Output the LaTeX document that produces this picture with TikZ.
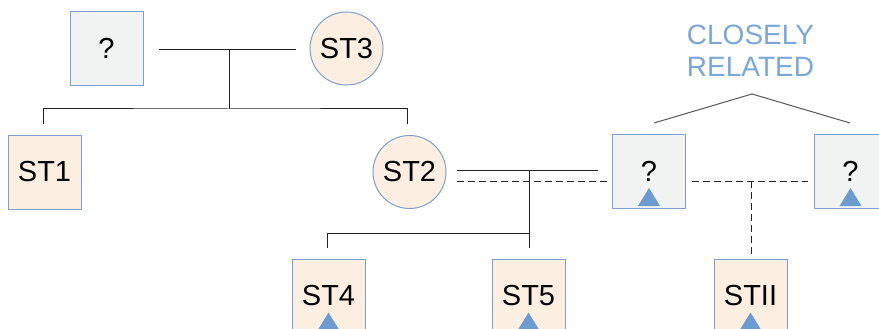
\documentclass[tikz,border=0pt]{standalone}
\usepackage{fontspec}
\setmainfont{Liberation Sans}
\usetikzlibrary{calc}
\definecolor{bordc}{HTML}{7C9FD0}
\definecolor{peach}{HTML}{FDEEE2}
\definecolor{greyf}{HTML}{F1F3F2}
\definecolor{trif}{HTML}{6C9BD1}
\definecolor{labc}{HTML}{7BA7D8}
\definecolor{linec}{HTML}{222222}
\definecolor{peakc}{HTML}{555555}
\newcommand\markTri[1]{\fill[trifill] ($(#1.center)+(0,16.5)$) -- ($(#1.center)+(11,34.5)$) -- ($(#1.center)+(-11,34.5)$) -- cycle;}
\begin{document}
\begin{tikzpicture}[x=1pt,y=-1pt,
  sqbox/.style={rectangle,draw=bordc,line width=1pt,minimum width=73pt,minimum height=74pt,inner sep=0pt,font=\fontsize{29}{32}\selectfont},
  known/.style={sqbox,fill=peach},
  unknown/.style={sqbox,fill=greyf},
  circ/.style={circle,draw=bordc,line width=1pt,fill=peach,minimum size=73pt,inner sep=0pt,font=\fontsize{29}{32}\selectfont},
  link/.style={draw=linec,line width=1pt},
  dlink/.style={link,dash pattern=on 6.5pt off 4.5pt},
  peak/.style={draw=peakc,line width=1pt},
  trifill/.style={fill=trif}]
\useasboundingbox (0,0) rectangle (879,329);
% nodes
\node[unknown] (q0) at (106.5,48.5) {?};
\node[circ] (st3) at (346.5,48.5) {ST3};
\node[known] (st1) at (44.5,172) {ST1};
\node[circ] (st2) at (409.5,172) {ST2};
\node[unknown] (q1) at (649,171.5) {?};
\node[unknown] (q2) at (850.5,171.5) {?};
\node[known] (st4) at (328.5,296) {ST4};
\node[known] (st5) at (528.5,296) {ST5};
\node[known] (stii) at (750.5,296) {STII};
\markTri{q1}
\markTri{q2}
\markTri{st4}
\markTri{st5}
\markTri{stii}
\node[font=\fontsize{28}{32}\selectfont, text=labc, align=center, anchor=base, inner sep=0pt] (cr) at (750.5,77) {CLOSELY\\RELATED};
% top family
\coordinate (t1) at (159,50);
\coordinate (t2) at (296,50);
\coordinate (tm) at (229,50);
\coordinate (tj) at (229,109);
\coordinate (d1) at (43,124);
\coordinate (d2) at (407,124);
\draw[link] (t1) -- (t2);
\draw[link] (tm) -- (tj);
\draw[link] (d1) |- (tj) -| (d2);
% ST2 family
\coordinate (s1) at (457,170);
\coordinate (s2) at (598,170);
\coordinate (sm) at (529,170);
\coordinate (sj) at (529,233);
\coordinate (sb) at (529,248);
\coordinate (sd4) at (327,248);
\draw[link] (s1) -- (s2);
\draw[link] (sm) -- (sb);
\draw[link] (sd4) |- (sj);
% dashed relations
\coordinate (e1) at (457,181);
\coordinate (e2) at (610,181);
\coordinate (f1) at (692,181);
\coordinate (f2) at (808,181);
\coordinate (fm) at (751,181);
\coordinate (fb) at (751,257);
\draw[dlink] (e1) -- (e2);
\draw[dlink] (f1) -- (f2);
\draw[dlink] (fm) -- (fb);
% closely related bracket
\coordinate (p1) at (654,123);
\coordinate (p2) at (752,94);
\coordinate (p3) at (850,123);
\draw[peak] (p1) -- (p2) -- (p3);
\end{tikzpicture}
\end{document}
